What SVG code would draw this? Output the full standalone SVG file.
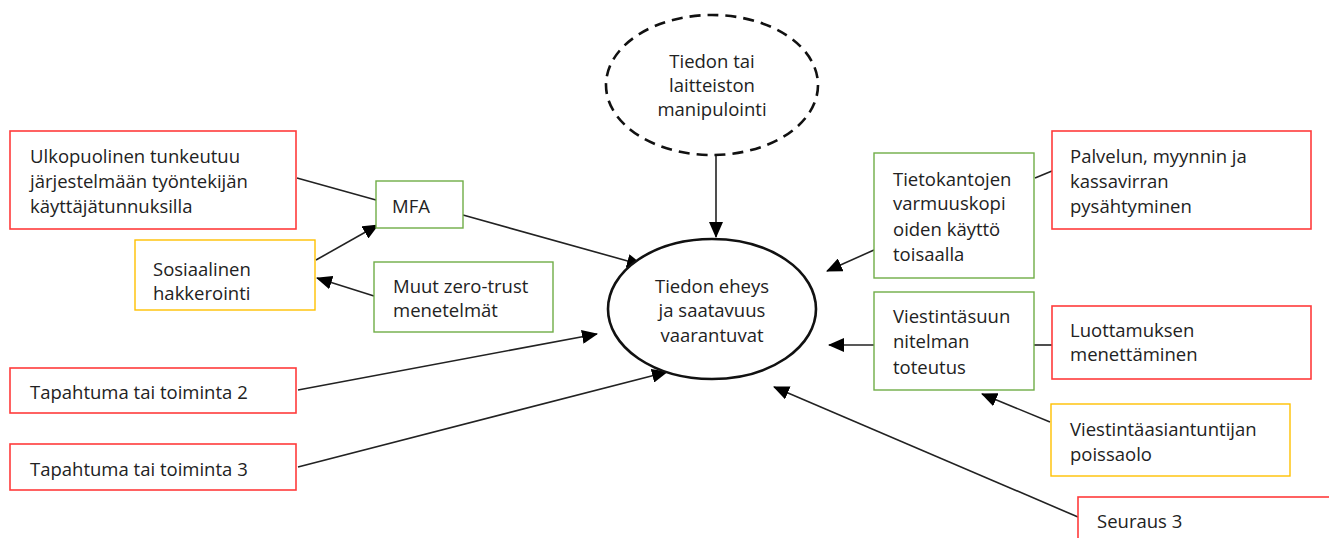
<svg xmlns="http://www.w3.org/2000/svg" width="1329" height="538" viewBox="0 0 1329 538">
<style>
text{font-family:"Open Sans","Liberation Sans",sans-serif;font-size:18.5px;fill:#222}
.c{text-anchor:middle}
.red{fill:#fff;stroke:#ff3b3b;stroke-width:1.6}
.grn{fill:#fff;stroke:#70ad47;stroke-width:1.4}
.yel{fill:#fff;stroke:#ffc000;stroke-width:1.4}
.ln{stroke:#222;stroke-width:1.6;fill:none}
.ar{stroke:#222;stroke-width:1.6;fill:none;marker-end:url(#ah)}
</style>
<defs>
<marker id="ah" markerUnits="userSpaceOnUse" markerWidth="16" markerHeight="14" refX="15" refY="7" orient="auto">
<path d="M0,0 L16,7 L0,14 z" fill="#000"/>
</marker>
</defs>
<rect width="1329" height="538" fill="#fff"/>
<g id="connectors">
<line class="ar" x1="716" y1="156" x2="716" y2="237"/>
<line class="ln" x1="297" y1="178" x2="376" y2="200"/>
<line class="ar" x1="463" y1="215" x2="642" y2="265"/>
<line class="ar" x1="316" y1="260" x2="378" y2="225"/>
<line class="ar" x1="374" y1="296" x2="317" y2="278"/>
<line class="ar" x1="298" y1="390" x2="597" y2="334"/>
<line class="ar" x1="298" y1="467" x2="667" y2="372"/>
<line class="ln" x1="1052" y1="171" x2="1035" y2="178"/>
<line class="ar" x1="874" y1="250" x2="827" y2="271"/>
<line class="ln" x1="1052" y1="345" x2="1034" y2="345"/>
<line class="ar" x1="874" y1="345" x2="829" y2="345"/>
<line class="ar" x1="1050" y1="422" x2="982" y2="394"/>
<line class="ar" x1="1078" y1="517" x2="774" y2="387"/>
</g>
<g id="manipulointi">
<ellipse cx="712" cy="85" rx="106" ry="70" fill="#fff" stroke="#111" stroke-width="2.6" stroke-dasharray="11,7"/>
<text class="c" x="712" y="68">Tiedon tai</text>
<text class="c" x="712" y="92">laitteiston</text>
<text class="c" x="712" y="116">manipulointi</text>
</g>
<g id="eheys">
<ellipse cx="712" cy="309" rx="104" ry="70" fill="#fff" stroke="#111" stroke-width="2.6"/>
<text class="c" x="712" y="293">Tiedon eheys</text>
<text class="c" x="712" y="317">ja saatavuus</text>
<text class="c" x="712" y="342">vaarantuvat</text>
</g>
<g id="ulkopuolinen">
<rect class="red" x="10" y="131" width="286" height="98"/>
<text x="30" y="163">Ulkopuolinen tunkeutuu</text>
<text x="30" y="188">järjestelmään työntekijän</text>
<text x="30" y="213">käyttäjätunnuksilla</text>
</g>
<g id="mfa">
<rect class="grn" x="376" y="181" width="87" height="47"/>
<text x="392" y="213">MFA</text>
</g>
<g id="sosiaalinen">
<rect class="yel" x="135" y="240" width="180" height="70"/>
<text x="153" y="276">Sosiaalinen</text>
<text x="153" y="300">hakkerointi</text>
</g>
<g id="muut">
<rect class="grn" x="374" y="262" width="179" height="70"/>
<text x="393" y="293">Muut zero-trust</text>
<text x="393" y="317">menetelmät</text>
</g>
<g id="tapahtuma2">
<rect class="red" x="10" y="368" width="286" height="45"/>
<text x="30" y="399">Tapahtuma tai toiminta 2</text>
</g>
<g id="tapahtuma3">
<rect class="red" x="10" y="444" width="286" height="46"/>
<text x="30" y="476">Tapahtuma tai toiminta 3</text>
</g>
<g id="tietokantojen">
<rect class="grn" x="874" y="153" width="160" height="125"/>
<text x="893" y="186">Tietokantojen</text>
<text x="893" y="210">varmuuskopi</text>
<text x="893" y="236">oiden käyttö</text>
<text x="893" y="261">toisaalla</text>
</g>
<g id="palvelun">
<rect class="red" x="1052" y="131" width="259" height="98"/>
<text x="1070" y="163">Palvelun, myynnin ja</text>
<text x="1070" y="188">kassavirran</text>
<text x="1070" y="213">pysähtyminen</text>
</g>
<g id="viestintasuunnitelma">
<rect class="grn" x="874" y="292" width="160" height="98"/>
<text x="893" y="323">Viestintäsuun</text>
<text x="893" y="348">nitelman</text>
<text x="893" y="374">toteutus</text>
</g>
<g id="luottamuksen">
<rect class="red" x="1052" y="306" width="259" height="73"/>
<text x="1070" y="337">Luottamuksen</text>
<text x="1070" y="361">menettäminen</text>
</g>
<g id="viestintaasiantuntijan">
<rect class="yel" x="1051" y="404" width="239" height="72"/>
<text x="1070" y="436">Viestintäasiantuntijan</text>
<text x="1070" y="461">poissaolo</text>
</g>
<g id="seuraus3">
<rect class="red" x="1078" y="497" width="260" height="60"/>
<text x="1097" y="528">Seuraus 3</text>
</g>
</svg>
